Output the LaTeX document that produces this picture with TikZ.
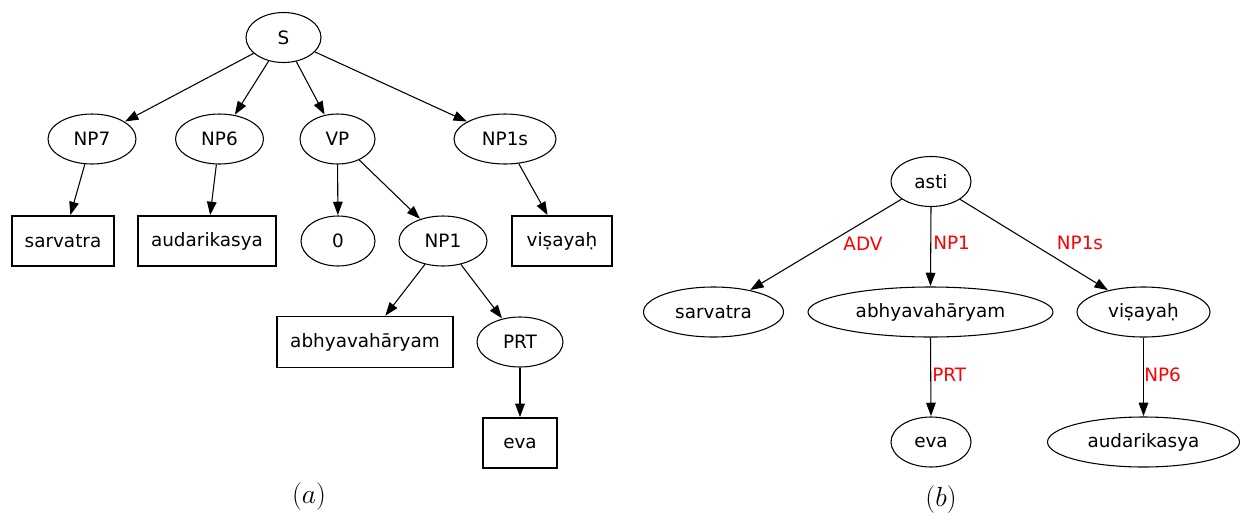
\documentclass[tikz,border=0pt]{standalone}
\usepackage{fontspec}
\newfontfamily\dv{DejaVu Sans}
\usetikzlibrary{shapes.geometric,arrows.meta}
\begin{document}
\begin{tikzpicture}[x=0.75pt,y=-0.75pt,
  every node/.style={font=\dv\fontsize{13.8}{16}\selectfont, text=black},
  ell/.style={draw, ellipse, line width=0.8pt, inner sep=0pt, minimum height=37.5pt},
  box/.style={draw, rectangle, line width=0.8pt, inner sep=0pt, minimum height=37.5pt},
  conn/.style={line width=0.8pt, -{Triangle[length=10pt,width=7.2pt]}, shorten >=0.3pt},
  lbl/.style={text=red, inner sep=0pt},
  captxt/.style={font=\fontsize{21}{24}\selectfont}
]
\useasboundingbox (0,0) rectangle (1240,515);
% ---- (a) ----
\node[ell, minimum width=56.25pt] (S) at (283.5,37.5) {S};
\node[ell, minimum width=66pt] (NP7) at (92,139) {NP7};
\node[ell, minimum width=66pt] (NP6) at (219.5,139) {NP6};
\node[ell, minimum width=56.25pt] (VP) at (337.5,139) {VP};
\node[ell, minimum width=76.5pt] (NP1s) at (505,139) {NP1s};
\node[box, minimum width=76.5pt] (sarv) at (63,241) {sarvatra};
\node[box, minimum width=103.5pt] (aud) at (207,241) {audarikasya};
\node[ell, minimum width=55.5pt] (zero) at (338,241) {0};
\node[ell, minimum width=66pt] (NP1) at (443,241) {NP1};
\node[box, minimum width=75pt] (vis) at (562,241) {viṣayaḥ};
\node[box, minimum width=132pt, minimum height=38.25pt] (abh) at (365,342) {abhyavahāryam};
\node[ell, minimum width=64.5pt] (PRT) at (520,342) {PRT};
\node[box, minimum width=55.5pt] (eva) at (520,443) {eva};
\draw[conn] (S) -- (NP7);
\draw[conn] (S) -- (NP6);
\draw[conn] (S) -- (VP);
\draw[conn] (S) -- (NP1s);
\draw[conn] (NP7) -- (sarv);
\draw[conn] (NP6) -- (aud);
\draw[conn] (VP) -- (zero);
\draw[conn] (VP) -- (NP1);
\draw[conn] (NP1s) -- (vis);
\draw[conn] (NP1) -- (abh);
\draw[conn] (NP1) -- (PRT);
\draw[conn] (PRT) -- (eva);
\node[captxt] (capa) at (309,497) {$(a)$};
% ---- (b) ----
\node[ell, minimum width=60pt] (asti) at (931,181.5) {asti};
\node[ell, minimum width=105pt] (bsarv) at (713.5,312) {sarvatra};
\node[ell, minimum width=183.75pt] (babh) at (930.5,312) {abhyavahāryam};
\node[ell, minimum width=99.75pt] (bvis) at (1143.5,312) {viṣayaḥ};
\node[ell, minimum width=60pt] (beva) at (931,442) {eva};
\node[ell, minimum width=144pt] (baud) at (1143.5,442) {audarikasya};
\draw[conn] (asti) -- (bsarv);
\draw[conn] (asti.south) -- (babh.north);
\draw[conn] (asti) -- (bvis);
\draw[conn] (babh.south) -- (beva.north);
\draw[conn] (bvis.south) -- (baud.north);
\node[lbl] (lADV) at (863,244) {ADV};
\node[lbl, anchor=west] (lNP1) at (933,243) {NP1};
\node[lbl] (lNP1s) at (1080,243) {NP1s};
\node[lbl, anchor=west] (lPRT) at (932,375) {PRT};
\node[lbl, anchor=west] (lNP6) at (1144,375) {NP6};
\node[captxt] (capb) at (941,500) {$(b)$};
\end{tikzpicture}
\end{document}
